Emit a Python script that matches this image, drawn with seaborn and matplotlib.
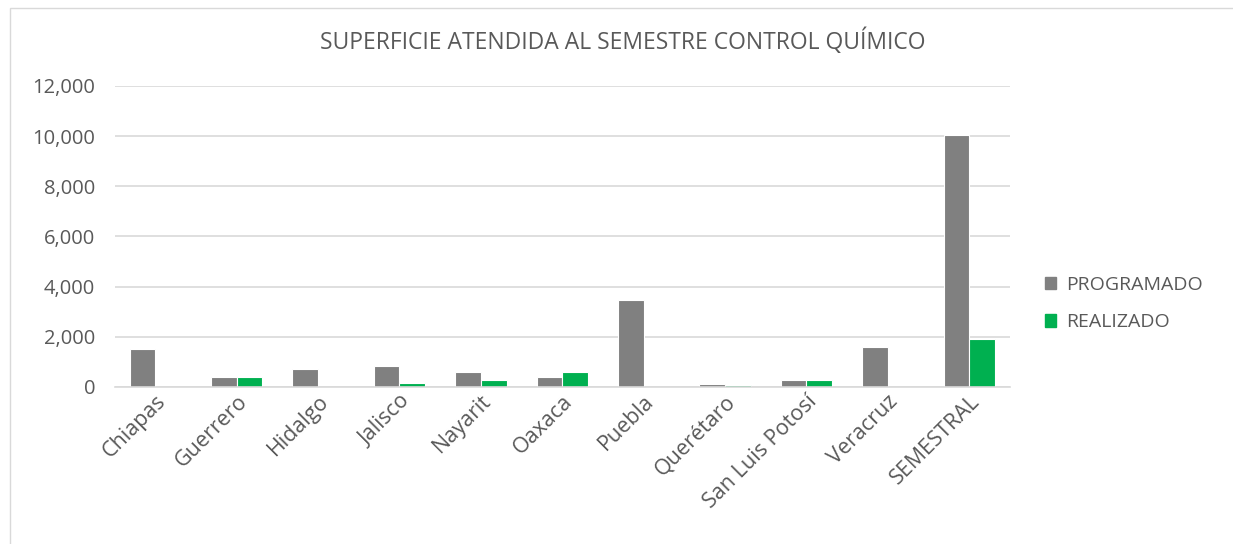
import matplotlib
matplotlib.use("Agg")
import matplotlib.pyplot as plt
import seaborn as sns
import pandas as pd
from matplotlib.ticker import FuncFormatter
from matplotlib.patches import Rectangle

# ===================== datos =====================
estados = ["Chiapas", "Guerrero", "Hidalgo", "Jalisco", "Nayarit", "Oaxaca",
           "Puebla", "Querétaro", "San Luis Potosí", "Veracruz", "SEMESTRAL"]
programado = [1500, 400, 720, 830, 590, 410, 3480, 115, 265, 1580, 10030]
realizado = [0, 400, 0, 170, 280, 600, 0, 65, 265, 0, 1900]
series = ["PROGRAMADO", "REALIZADO"]
colores = ["#808080", "#00B050"]

df = pd.DataFrame({
    "estado": estados * 2,
    "serie": [series[0]] * len(estados) + [series[1]] * len(estados),
    "valor": programado + realizado,
})

sns.set_theme(style="white")
plt.rcParams['font.family'] = ['Open Sans', 'DejaVu Sans']

fig = plt.figure(figsize=(12.33, 5.44), dpi=100)
ax = fig.add_axes([0.093, 0.289, 0.726, 0.553])

sns.barplot(data=df, x="estado", y="valor", hue="serie", palette=colores,
            width=0.63, ax=ax, edgecolor="white", linewidth=0.8,
            saturation=1, legend=False)

ax.set_ylim(0, 12000)
ax.set_yticks(range(0, 12001, 2000))
ax.yaxis.set_major_formatter(FuncFormatter(lambda v, p: f"{int(v):,}"))
ax.grid(axis="y", color="#d9d9d9", linewidth=1.2)
ax.set_axisbelow(True)
for s in ["top", "right", "left"]:
    ax.spines[s].set_visible(False)
ax.spines["bottom"].set_color("#d9d9d9")
ax.spines["bottom"].set_linewidth(1.2)
ax.set_xlabel("")
ax.set_ylabel("")
ax.tick_params(axis="both", length=0, colors="#595959", labelsize=14.5)
ax.tick_params(axis="x", pad=3, labelsize=15.5)
ax.tick_params(axis="y", pad=14)
plt.setp(ax.get_xticklabels(), rotation=45, ha="right", rotation_mode="anchor")
ax.set_xlim(-0.5, len(estados) - 0.5)

fig.text(0.505, 0.923, "SUPERFICIE ATENDIDA AL SEMESTRE CONTROL QUÍMICO",
         ha="center", va="center", fontsize=16.5, color="#595959")

handles = [Rectangle((0, 0), 1, 1, color=c) for c in colores]
fig.legend(handles, series, loc="center left", bbox_to_anchor=(0.833, 0.442),
           frameon=False, fontsize=14, labelcolor="#595959",
           handlelength=0.6, handleheight=0.6, handletextpad=0.5,
           labelspacing=1.0)

# marco exterior
fig.patches.append(Rectangle((0.008, -0.01), 1.2, 0.996, transform=fig.transFigure,
                             fill=False, edgecolor="#d9d9d9", linewidth=1))

fig.savefig("out.png", dpi=100)
